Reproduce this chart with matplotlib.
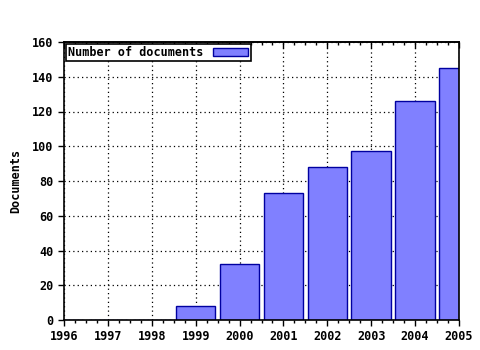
import matplotlib
matplotlib.use('Agg')
import matplotlib.pyplot as plt
from matplotlib.ticker import AutoMinorLocator

years = [1996, 1997, 1998, 1999, 2000, 2001, 2002, 2003, 2004, 2005]
docs = [0, 0, 0, 8, 32, 73, 88, 97, 126, 145]

plt.rcParams['font.family'] = 'DejaVu Sans Mono'
plt.rcParams['font.weight'] = 'bold'
plt.rcParams['font.size'] = 8.5

fig = plt.figure(figsize=(4.8, 3.5), dpi=100)
ax = fig.add_axes([64 / 480, 30 / 350, (459 - 64) / 480, (320 - 42) / 350])

ax.bar(years, docs, width=0.9, color='#8080ff', edgecolor='#0000a0',
       linewidth=1, label='Number of documents', zorder=2)

ax.set_xlim(1996, 2005)
ax.set_ylim(0, 160)
ax.set_xticks(years)
ax.set_yticks(range(0, 161, 20))
ax.xaxis.set_minor_locator(AutoMinorLocator(4))
ax.tick_params(which='major', length=4, width=1, direction='out', colors='black')
ax.tick_params(which='minor', length=2, width=1, direction='out')

# top axis: inward ticks, no labels
top = ax.secondary_xaxis('top')
top.set_xticks(years)
top.xaxis.set_minor_locator(AutoMinorLocator(4))
top.tick_params(which='major', length=4, width=1, direction='in', labeltop=False)
top.tick_params(which='minor', length=2, width=1, direction='in')
top.spines['top'].set_linewidth(1.2)

ax.grid(True, which='major', color='black', linestyle=(0, (1, 2.5)), linewidth=0.9, zorder=0)
ax.set_axisbelow(True)
for s in ax.spines.values():
    s.set_linewidth(1.2)

ax.set_ylabel('Documents', fontsize=8.5, fontweight='bold', labelpad=7)

leg = ax.legend(loc='upper left', frameon=True, fancybox=False, edgecolor='black',
                borderpad=0.2, handlelength=3, handleheight=0.7, handletextpad=0.8,
                borderaxespad=0.15, markerfirst=False, framealpha=1)
leg.get_frame().set_linewidth(1.2)

fig.savefig('out.png', dpi=100)
